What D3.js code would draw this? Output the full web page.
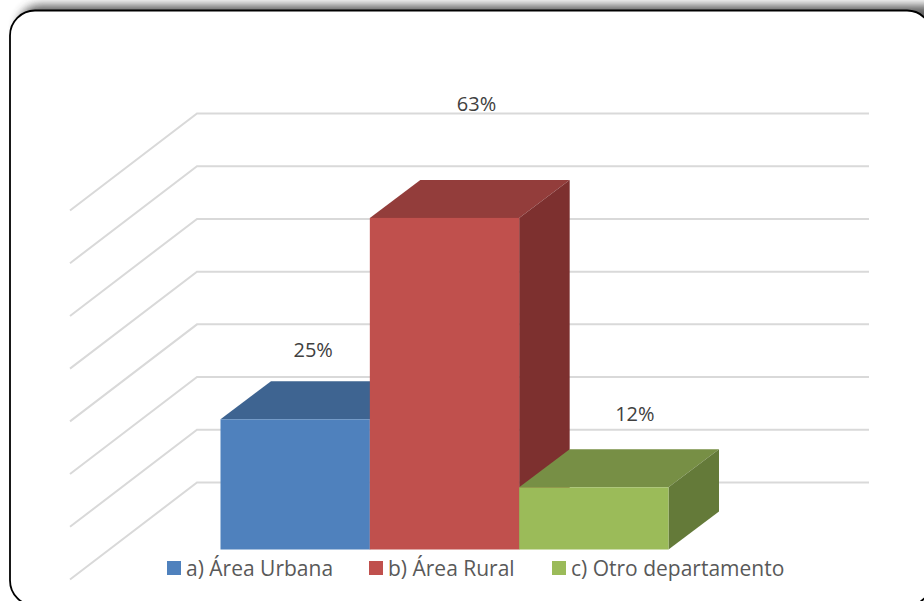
<!DOCTYPE html>
<html><head><meta charset="utf-8">
<script src="https://cdn.jsdelivr.net/npm/d3@7"></script>
<style>html,body{margin:0;padding:0;background:#fff;overflow:hidden}svg{display:block}text{font-family:"Open Sans",sans-serif}</style>
</head><body><svg id="c" width="924" height="601"></svg>
<script>
const categories = ["a) Área Urbana", "b) Área Rural", "c) Otro departamento"];
const values = [24.7, 62.9, 11.8];
const labels = ["25%", "63%", "12%"];
const gridTicks = [0, 10, 20, 30, 40, 50, 60, 70];
const frontColors = ["#4F81BD", "#C0504D", "#9BBB59"];
const topColors = ["#3E6491", "#933D3B", "#778F45"];
const sideColors = ["#325076", "#7D302F", "#647A39"];
const legendX = [167, 369, 552];

const svg = d3.select("#c");
const depth = {dx: 50.5, dy: -38};
const floor = {dx: -127, dy: 97};
const frontDrop = 67;

const y = d3.scaleLinear().domain([0, 70]).range([482.5, 113.5]);
const x = d3.scaleBand().domain(categories).range([220.5, 668.5]).padding(0);

const defs = svg.append("defs");
defs.append("filter").attr("id", "blur").attr("x", "-5%").attr("y", "-40%").attr("width", "110%").attr("height", "180%")
  .append("feGaussianBlur").attr("stdDeviation", 5);

// frame with shadow
svg.append("rect").attr("x", 18).attr("y", 5).attr("width", 930).attr("height", 60).attr("rx", 22)
  .attr("fill", "#444").attr("opacity", 0.85).attr("filter", "url(#blur)");
svg.append("rect").attr("x", 10).attr("y", 10.5).attr("width", 922).attr("height", 595).attr("rx", 25)
  .attr("fill", "#fff").attr("stroke", "#000").attr("stroke-width", 1.8);

// gridlines: back wall + side wall
const line = d3.line();
svg.append("g").selectAll("path").data(gridTicks).join("path")
  .attr("d", t => line([[70, y(t) + floor.dy], [197, y(t)], [869, y(t)]]))
  .attr("fill", "none").attr("stroke", "#D9D9D9").attr("stroke-width", 2);

// 3D bars
const base = y(0) + frontDrop;
const h = v => y(0) - y(v);
const bars = svg.append("g").selectAll("g").data(values.map((v, i) => ({v, i, c: categories[i]}))).join("g");
const poly = pts => line(pts) + "Z";
bars.append("path").attr("fill", d => topColors[d.i]).attr("d", d => {
  const l = x(d.c), r = l + x.bandwidth(), t = base - h(d.v);
  return poly([[l, t], [r, t], [r + depth.dx, t + depth.dy], [l + depth.dx, t + depth.dy]]);
});
bars.append("path").attr("fill", d => sideColors[d.i]).attr("d", d => {
  const r = x(d.c) + x.bandwidth(), t = base - h(d.v);
  return poly([[r, t], [r + depth.dx, t + depth.dy], [r + depth.dx, base + depth.dy], [r, base]]);
});
bars.append("rect").attr("fill", d => frontColors[d.i])
  .attr("x", d => x(d.c)).attr("width", x.bandwidth())
  .attr("y", d => base - h(d.v)).attr("height", d => h(d.v));

// value labels
const labelDx = [18, 32, 41];
const labelDy = [62, 107, 66];
svg.append("g").selectAll("text").data(values).join("text")
  .attr("x", (d, i) => x(categories[i]) + x.bandwidth() / 2 + labelDx[i])
  .attr("y", (d, i) => base - h(d) - labelDy[i])
  .attr("text-anchor", "middle").attr("font-size", 20).attr("fill", "#404040")
  .text((d, i) => labels[i]);

// legend
const lg = svg.append("g").selectAll("g").data(categories).join("g")
  .attr("transform", (d, i) => `translate(${legendX[i]},561)`);
lg.append("rect").attr("width", 14).attr("height", 14).attr("fill", (d, i) => frontColors[i]);
lg.append("text").attr("x", 19).attr("y", 15).attr("font-size", 21).attr("fill", "#595959").text(d => d);
</script></body></html>
